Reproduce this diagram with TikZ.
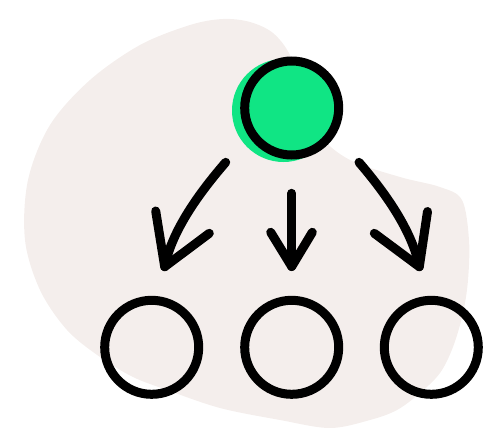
\documentclass[tikz,border=0pt]{standalone}
\usepackage{amsmath}
\usepackage{amssymb}

\definecolor{sfondo}{HTML}{F4EEEC}
\definecolor{verde}{HTML}{10E584}

\begin{document}
\begin{tikzpicture}[x=1pt,y=-1pt,
        cerchio/.style={circle,draw=black,line width=9pt,minimum size=94pt,inner sep=0pt},
        freccia/.style={line width=9pt,line cap=round,line join=round}]
        \useasboundingbox (0,0) rectangle (485,429);
        \clip (0,0) rectangle (485,429);
        \fill[sfondo] plot[smooth cycle,tension=0.55] coordinates {(223,19) (250,22) (273,33) (290,55) (305,95) (320,135) (350,160) (400,177) (440,187) (462,200) (469,240) (468,280) (463,313) (453,347) (440,373) (420,393) (397,410) (370,420) (330,428) (280,420) (220,408) (167,390) (133,377) (100,357) (67,330) (40,290) (25,240) (28,180) (50,125) (90,80) (140,45) (190,25)}; % macchia di sfondo
        \fill[verde] (283.5,110.5) circle (51.5pt); % ombra verde dietro il nodo padre
        \node[cerchio,fill=verde] (padre) at (291.7,108) {}; % nodo padre
        \node[cerchio] (figlioA) at (151.7,347.3) {}; % primo figlio
        \node[cerchio] (figlioB) at (291.7,347.3) {}; % secondo figlio
        \node[cerchio] (figlioC) at (431.3,347.3) {}; % terzo figlio
        \coordinate (inizioA) at (225.7,162.3);
        \coordinate (puntaA) at (164.7,266.7);
        \coordinate (inizioB) at (291.7,193.3);
        \coordinate (puntaB) at (291.7,266.5);
        \coordinate (inizioC) at (359,162.3);
        \coordinate (puntaC) at (419.3,266.7);
        \draw[freccia] (inizioA) .. controls (200,192) and (172,230) .. (puntaA); % freccia a sinistra
        \draw[freccia] (155.7,211) -- (puntaA) -- (209.3,233.3);
        \draw[freccia] (inizioB) -- (puntaB); % freccia centrale
        \draw[freccia] (270.7,232.3) -- (puntaB) -- (312.3,232.3);
        \draw[freccia] (inizioC) .. controls (384.5,192) and (412,230) .. (puntaC); % freccia a destra
        \draw[freccia] (427.5,211.5) -- (puntaC) -- (374.3,233.3);
    \end{tikzpicture}
\end{document}
